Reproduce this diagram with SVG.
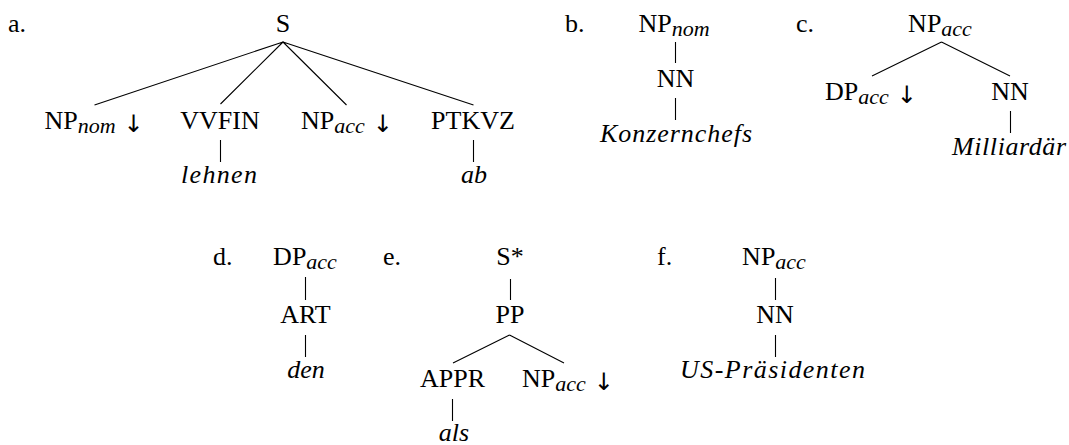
<svg xmlns="http://www.w3.org/2000/svg" width="1069" height="445" viewBox="0 0 1069 445">
  <style>
    .t { font-family: "Liberation Serif", "Times New Roman", serif; font-size: 26px; fill: #000; }
    .mid { text-anchor: middle; }
    .it { font-style: italic; }
    .sub { font-size: 22px; font-style: italic; }
    .arr { font-family: "DejaVu Sans", sans-serif; font-size: 24px; font-style: normal; }
    .edge { stroke: #000; stroke-width: 1.1; fill: none; }
  </style>
  <rect width="1069" height="445" fill="#fff"/>

  <!-- example letters -->
  <g id="labels" class="t">
    <text x="8" y="32">a.</text>
    <text x="565" y="32">b.</text>
    <text x="796" y="32">c.</text>
    <text x="213" y="265">d.</text>
    <text x="383" y="265">e.</text>
    <text x="657" y="265">f.</text>
  </g>

  <g class="t">
    <!-- tree a -->
    <g id="a-S"><text class="mid" x="283" y="32">S</text></g>
    <g id="a-NPnom"><text class="mid" x="94" y="129">NP<tspan class="sub" dy="4">nom</tspan><tspan class="arr" dx="8" dy="-1">↓</tspan></text></g>
    <g id="a-VVFIN"><text class="mid" x="220" y="129">VVFIN</text></g>
    <g id="a-NPacc"><text class="mid" x="347" y="129">NP<tspan class="sub" dy="4">acc</tspan><tspan class="arr" dx="8" dy="-1">↓</tspan></text></g>
    <g id="a-PTKVZ"><text class="mid" x="473" y="129">PTKVZ</text></g>
    <g id="a-lehnen"><text class="mid it" x="219" y="183" textLength="76">lehnen</text></g>
    <g id="a-ab"><text class="mid it" x="474" y="183">ab</text></g>

    <!-- tree b -->
    <g id="b-NPnom"><text class="mid" x="674" y="32">NP<tspan class="sub" dy="4">nom</tspan></text></g>
    <g id="b-NN"><text class="mid" x="675.5" y="87">NN</text></g>
    <g id="b-Konzernchefs"><text class="mid it" x="676" y="142" textLength="152">Konzernchefs</text></g>

    <!-- tree c -->
    <g id="c-NPacc"><text class="mid" x="940" y="32">NP<tspan class="sub" dy="4">acc</tspan></text></g>
    <g id="c-DPacc"><text class="mid" x="871" y="100">DP<tspan class="sub" dy="4">acc</tspan><tspan class="arr" dx="8" dy="-1">↓</tspan></text></g>
    <g id="c-NN"><text class="mid" x="1010" y="100">NN</text></g>
    <g id="c-Milliardaer"><text class="mid it" x="1009" y="155" textLength="114">Milliardär</text></g>

    <!-- tree d -->
    <g id="d-DPacc"><text class="mid" x="305" y="265">DP<tspan class="sub" dy="4">acc</tspan></text></g>
    <g id="d-ART"><text class="mid" x="305.5" y="323">ART</text></g>
    <g id="d-den"><text class="mid it" x="306" y="378">den</text></g>

    <!-- tree e -->
    <g id="e-Sstar"><text class="mid" x="510" y="265">S*</text></g>
    <g id="e-PP"><text class="mid" x="510" y="323">PP</text></g>
    <g id="e-APPR"><text class="mid" x="452.5" y="387">APPR</text></g>
    <g id="e-NPacc"><text class="mid" x="568" y="387">NP<tspan class="sub" dy="4">acc</tspan><tspan class="arr" dx="8" dy="-1">↓</tspan></text></g>
    <g id="e-als"><text class="mid it" x="454" y="441">als</text></g>

    <!-- tree f -->
    <g id="f-NPacc"><text class="mid" x="774" y="265">NP<tspan class="sub" dy="4">acc</tspan></text></g>
    <g id="f-NN"><text class="mid" x="775" y="323">NN</text></g>
    <g id="f-USPraesidenten"><text class="mid it" x="772.5" y="378" textLength="185">US-Präsidenten</text></g>
  </g>

  <!-- tree edges -->
  <g id="connectors" class="edge">
    <path d="M283,42 L94.5,105 M283,42 L220.5,104 M283,42 L346.5,105 M283,42 L473.5,105"/>
    <path d="M220.5,140 V162 M473.5,140 V162"/>
    <path d="M675.5,42 V63 M675.5,98 V120"/>
    <path d="M941.5,42 L872,76 M941.5,42 L1010,76 M1010.5,111 V133"/>
    <path d="M305.5,277 V300 M305.5,335 V357"/>
    <path d="M510.5,279 V300 M509.5,335 L453,363 M509.5,335 L564,363 M452.5,399 V421"/>
    <path d="M775.5,278 V300 M775.5,335 V357"/>
  </g>
</svg>
